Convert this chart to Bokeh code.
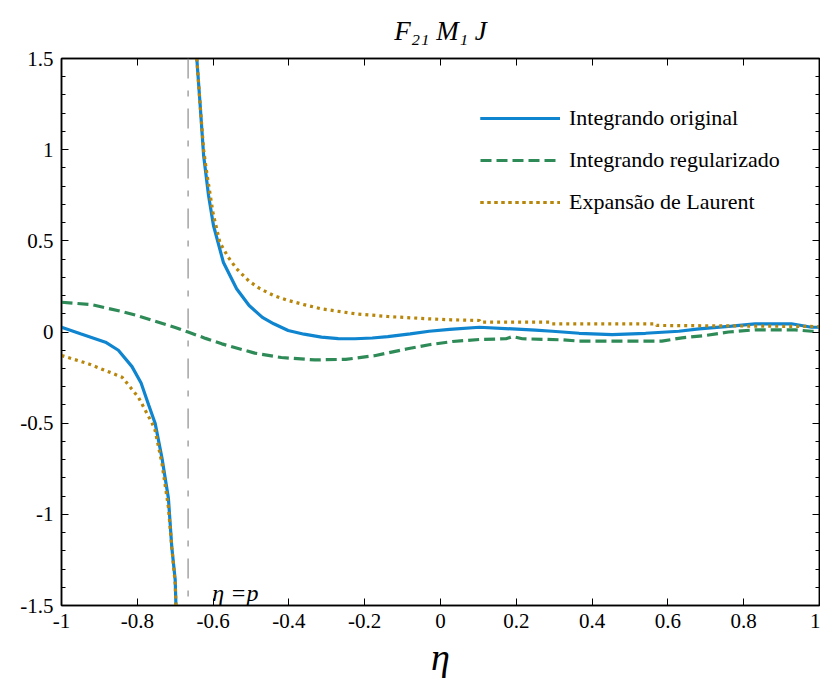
from bokeh.plotting import figure
from bokeh.models import (LinearAxis, FixedTicker, Span, Label, Range1d, Legend, LegendItem)
from bokeh.embed import file_html
from bokeh.resources import INLINE

# ---------------- data ----------------
orig_lo_x = [-1.0, -0.95, -0.884, -0.85, -0.814, -0.79, -0.77, -0.753, -0.735, -0.718, -0.709, -0.700, -0.698]
orig_lo_y = [0.026, -0.01, -0.056, -0.10, -0.19, -0.28, -0.40, -0.50, -0.69, -0.91, -1.18, -1.36, -1.5]

orig_hi_x = [-0.643, -0.634, -0.625, -0.612, -0.599, -0.573, -0.538, -0.505, -0.47, -0.44, -0.402, -0.36,
             -0.314, -0.27, -0.226, -0.18, -0.139, -0.08, -0.03, 0.024, 0.103, 0.19, 0.25, 0.295, 0.366,
             0.453, 0.541, 0.629, 0.682, 0.768, 0.83, 0.926, 0.979, 1.0]
orig_hi_y = [1.5, 1.24, 0.968, 0.749, 0.584, 0.383, 0.237, 0.145, 0.08, 0.045, 0.008, -0.012,
             -0.028, -0.036, -0.037, -0.033, -0.025, -0.01, 0.004, 0.014, 0.026, 0.017, 0.01, 0.004, -0.007,
             -0.014, -0.007, 0.004, 0.017, 0.032, 0.045, 0.045, 0.026, 0.026]

reg_x = [-1.0, -0.92, -0.84, -0.80, -0.753, -0.70, -0.666, -0.62, -0.577, -0.49, -0.42, -0.332, -0.25,
         -0.174, -0.087, -0.03, 0.032, 0.103, 0.173, 0.19, 0.216, 0.322, 0.366, 0.584, 0.637, 0.70,
         0.76, 0.83, 0.936, 0.979, 1.0]
reg_y = [0.163, 0.15, 0.112, 0.09, 0.059, 0.025, 0.0, -0.035, -0.065, -0.116, -0.14, -0.153, -0.15,
         -0.13, -0.092, -0.07, -0.052, -0.041, -0.037, -0.025, -0.037, -0.043, -0.05, -0.05, -0.032, -0.019,
         0.0, 0.012, 0.012, 0.004, 0.004]

laur_lo_x = [-1.0, -0.928, -0.84, -0.797, -0.761, -0.753, -0.735, -0.718, -0.709, -0.700, -0.698]
laur_lo_y = [-0.129, -0.175, -0.248, -0.358, -0.50, -0.54, -0.72, -0.96, -1.18, -1.38, -1.5]

laur_hi_x = [-0.643, -0.634, -0.625, -0.617, -0.60, -0.582, -0.56, -0.538, -0.506, -0.476, -0.44, -0.402,
             -0.36, -0.314, -0.226, -0.139, -0.03, 0.028, 0.103, 0.105, 0.287, 0.29, 0.568, 0.57, 1.0]
laur_hi_y = [1.5, 1.24, 1.0, 0.877, 0.65, 0.49, 0.41, 0.347, 0.28, 0.237, 0.20, 0.173,
             0.15, 0.127, 0.1, 0.085, 0.072, 0.067, 0.063, 0.054, 0.054, 0.045, 0.045, 0.036, 0.03]

pole_p = -0.666

x_ticks = [-1, -0.8, -0.6, -0.4, -0.2, 0, 0.2, 0.4, 0.6, 0.8, 1]
x_tick_labels = ["-1", "-0.8", "-0.6", "-0.4", "-0.2", "0", "0.2", "0.4", "0.6", "0.8", "1"]
y_ticks = [-1.5, -1, -0.5, 0, 0.5, 1, 1.5]
y_tick_labels = ["-1.5", "-1", "-0.5", "0", "0.5", "1", "1.5"]
y_minor = [-1.4, -1.3, -1.2, -1.1, -0.9, -0.8, -0.7, -0.6, -0.4, -0.3, -0.2, -0.1,
           0.1, 0.2, 0.3, 0.4, 0.6, 0.7, 0.8, 0.9, 1.1, 1.2, 1.3, 1.4]

series_names = ["Integrando original", "Integrando regularizado", "Expansão de Laurent"]
title_text = "F₂₁ M₁ J"
x_label = "η"
pole_label = "η =p"

# ---------------- figure ----------------
FONT = "Liberation Serif"
BLUE = "#0f84cf"
GREEN = "#2e8b57"
GOLD = "#b8860b"

p = figure(width=820, height=683, output_backend="svg", toolbar_location=None,
           x_range=Range1d(-1, 1), y_range=Range1d(-1.5, 1.5),
           x_axis_location=None, y_axis_location=None,
           min_border_left=61, min_border_right=1, min_border_top=58, min_border_bottom=78)
p.xgrid.visible = False
p.ygrid.visible = False
p.outline_line_color = "black"
p.outline_line_width = 1.5
p.background_fill_color = "white"
p.border_fill_color = "white"

p.title.text = title_text
p.title.align = "center"
p.title.vertical_align = "top"
p.title.text_font = FONT
p.title.text_font_style = "italic"
p.title.text_font_size = "27px"
p.title.text_color = "black"
p.title.standoff = 22

def style_axis(ax, show_labels):
    ax.axis_line_color = "black"
    ax.axis_line_width = 1.5
    ax.major_tick_in = 7
    ax.major_tick_out = 0
    ax.minor_tick_in = 4
    ax.minor_tick_out = 0
    ax.major_tick_line_color = "black"
    ax.minor_tick_line_color = "black"
    ax.major_label_text_font = FONT
    ax.major_label_text_color = "black"
    ax.major_label_text_font_size = "21px"
    if show_labels:
        ax.major_label_standoff = 8
    else:
        ax.major_label_standoff = 0

xb = LinearAxis(ticker=FixedTicker(ticks=x_ticks),
                major_label_overrides={t: l for t, l in zip(x_ticks, x_tick_labels)})
style_axis(xb, True)
xb.axis_label = x_label
xb.axis_label_text_font = FONT
xb.axis_label_text_font_style = "italic"
xb.axis_label_text_font_size = "38px"
xb.axis_label_text_color = "black"
xb.axis_label_standoff = 5

xt = LinearAxis(ticker=FixedTicker(ticks=x_ticks),
                major_label_overrides={t: "" for t in x_ticks})
style_axis(xt, False)
yl = LinearAxis(ticker=FixedTicker(ticks=y_ticks, minor_ticks=y_minor),
                major_label_overrides={t: l for t, l in zip(y_ticks, y_tick_labels)})
style_axis(yl, True)
yr = LinearAxis(ticker=FixedTicker(ticks=y_ticks, minor_ticks=y_minor),
                major_label_overrides={t: "" for t in y_ticks})
style_axis(yr, False)
p.add_layout(xb, "below")
p.add_layout(xt, "above")
p.add_layout(yl, "left")
p.add_layout(yr, "right")

# pole line
p.add_layout(Span(location=pole_p, dimension="height", line_color="#8c8c8c",
                  line_width=1.2, line_dash="20 12 6 12"))

r_reg = p.line(reg_x, reg_y, line_color=GREEN, line_width=3.2, line_dash="11 5")
r_o1 = p.line(orig_lo_x, orig_lo_y, line_color=BLUE, line_width=3.2)
r_o2 = p.line(orig_hi_x, orig_hi_y, line_color=BLUE, line_width=3.2)
r_l1 = p.line(laur_lo_x, laur_lo_y, line_color=GOLD, line_width=3.2, line_dash="3 4")
r_l2 = p.line(laur_hi_x, laur_hi_y, line_color=GOLD, line_width=3.2, line_dash="3 4")

legend = Legend(items=[LegendItem(label=series_names[0], renderers=[r_o1, r_o2]),
                       LegendItem(label=series_names[1], renderers=[r_reg]),
                       LegendItem(label=series_names[2], renderers=[r_l1, r_l2])],
                location=(419, 388), padding=0, margin=0, spacing=12,
                glyph_width=80, glyph_height=30, label_height=30, label_standoff=9,
                label_text_font=FONT, label_text_font_size="22px", label_text_color="black",
                border_line_alpha=0, background_fill_alpha=0)
p.add_layout(legend, "center")

p.add_layout(Label(x=-0.602, y=-1.43, text=pole_label, text_font=FONT, text_font_style="italic",
                   text_font_size="24px", text_color="black", text_baseline="alphabetic"))

open("out.html", "w").write(file_html(p, INLINE))
